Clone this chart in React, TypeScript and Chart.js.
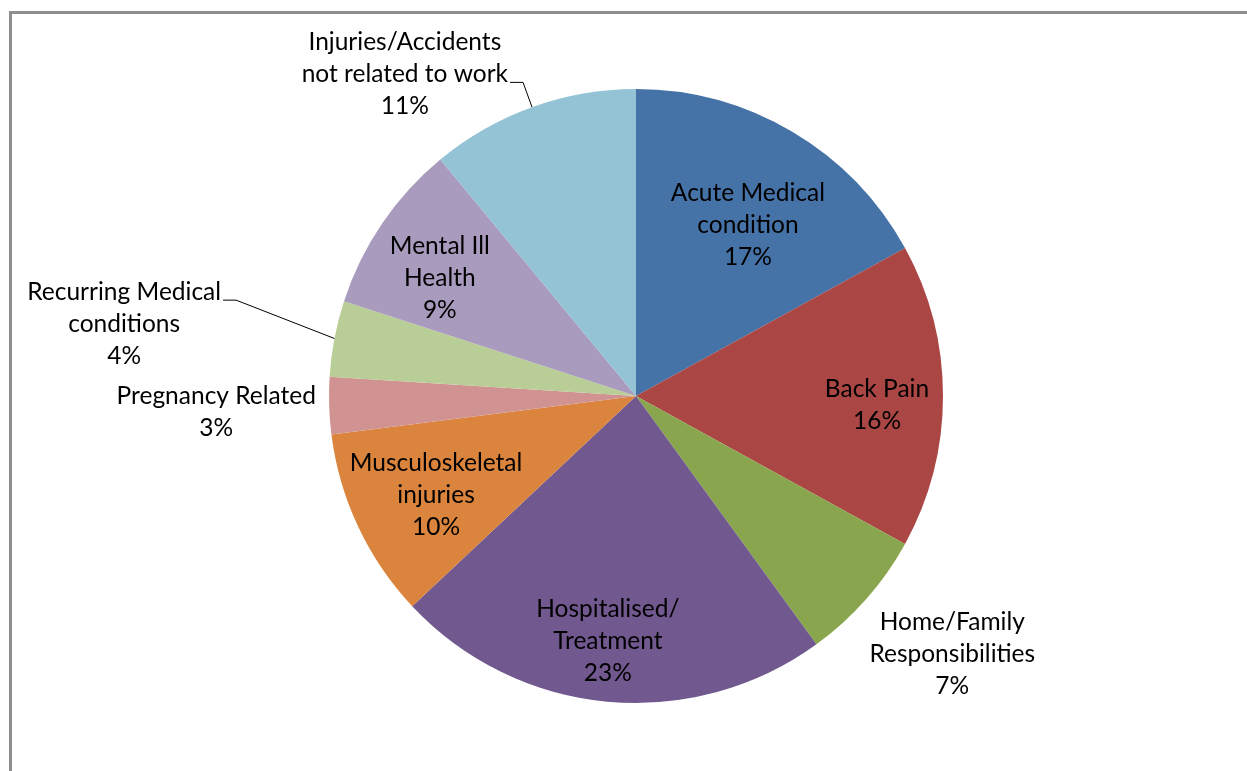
import { useEffect, useRef } from "react";
import { Chart, registerables } from "chart.js";

Chart.register(...registerables);

const categories: string[] = [
  "Acute Medical\ncondition",
  "Back Pain",
  "Home/Family\nResponsibilities",
  "Hospitalised/\nTreatment",
  "Musculoskeletal\ninjuries",
  "Pregnancy Related",
  "Recurring Medical\nconditions",
  "Mental Ill\nHealth",
  "Injuries/Accidents\nnot related to work",
];

const values: number[] = [17, 16, 7, 23, 10, 3, 4, 9, 11];

const sliceColors: string[] = [
  "#4572A7",
  "#AA4643",
  "#89A54E",
  "#71588F",
  "#DB843D",
  "#D19392",
  "#B9CD96",
  "#A99BBD",
  "#93C3D5",
];

// label placement: radial factor of the slice mid-angle, pixel nudge, leader line row (-1 = none)
const labelRadial: number[] = [0.665, 0.785, 1.33, 0.8, 0.727, 1.368, 1.684, 0.745, 1.29];
const labelNudgeX: number[] = [8, 0, 10, -5, 2, 0, -4, -7, -97];
const labelNudgeY: number[] = [5, 9, -12, 0, 4, 3, 25, 11, 51];
const leaderRow: number[] = [-1, -1, -1, -1, -1, -1, 0, -1, 1];

const FONT_FAMILY = "Lato, 'Open Sans', sans-serif";
const FONT_SIZE = 24.5;
const LINE_GAP = 32;

const labelPlugin = {
  id: "sliceLabels",
  afterDatasetsDraw(chart: any) {
    const ctx: CanvasRenderingContext2D = chart.ctx;
    const meta = chart.getDatasetMeta(0);
    const data: number[] = chart.data.datasets[0].data;
    const total = data.reduce((a, b) => a + b, 0);
    ctx.save();
    ctx.font = `${FONT_SIZE}px ${FONT_FAMILY}`;
    ctx.fillStyle = "#000000";
    ctx.textAlign = "center";
    ctx.textBaseline = "alphabetic";
    meta.data.forEach((arc: any, i: number) => {
      const p = arc.getProps(["x", "y", "startAngle", "endAngle", "outerRadius"], true);
      const mid = (p.startAngle + p.endAngle) / 2;
      const r = p.outerRadius * labelRadial[i];
      const cx = p.x + Math.cos(mid) * r + labelNudgeX[i];
      const cy = p.y + Math.sin(mid) * r + labelNudgeY[i];
      const lines = String(chart.data.labels[i]).split("\n");
      lines.push(Math.round((data[i] / total) * 100) + "%");
      const n = lines.length;
      lines.forEach((ln, k) => {
        const by = cy + (k - (n - 1) / 2) * LINE_GAP + 8;
        ctx.fillText(ln, cx, by);
      });
      if (leaderRow[i] >= 0) {
        const k = leaderRow[i];
        const w = ctx.measureText(lines[k]).width;
        const by = cy + (k - (n - 1) / 2) * LINE_GAP + 8;
        const x0 = cx + w / 2 + 2;
        const ex = p.x + Math.cos(mid) * p.outerRadius;
        const ey = p.y + Math.sin(mid) * p.outerRadius;
        ctx.beginPath();
        ctx.strokeStyle = "#000000";
        ctx.lineWidth = 1;
        ctx.moveTo(x0, by);
        ctx.lineTo(x0 + 13, by);
        ctx.lineTo(ex, ey);
        ctx.stroke();
      }
    });
    ctx.restore();
  },
};

export default function App() {
  const canvasRef = useRef<HTMLCanvasElement | null>(null);

  useEffect(() => {
    if (!canvasRef.current) return;
    const chart = new Chart(canvasRef.current, {
      type: "pie",
      data: {
        labels: categories,
        datasets: [
          {
            data: values,
            backgroundColor: sliceColors,
            borderWidth: 0,
          },
        ],
      },
      options: {
        responsive: false,
        animation: false,
        devicePixelRatio: 1,
        layout: { padding: { top: 89, bottom: 68, left: 329, right: 304 } },
        plugins: {
          legend: { display: false },
          tooltip: { enabled: false },
        },
      },
      plugins: [labelPlugin],
    });
    return () => chart.destroy();
  }, []);

  return (
    <div
      style={{
        position: "fixed",
        left: 0,
        top: 0,
        width: 1247,
        height: 771,
        background: "#ffffff",
        overflow: "hidden",
      }}
    >
      <div
        style={{
          position: "absolute",
          left: 9,
          top: 11,
          width: 1300,
          height: 800,
          borderTop: "3px solid #8E8E8E",
          borderLeft: "3px solid #8E8E8E",
          boxSizing: "border-box",
        }}
      />
      <canvas
        ref={canvasRef}
        width={1247}
        height={771}
        style={{ position: "absolute", left: 0, top: 0 }}
      />
    </div>
  );
}
